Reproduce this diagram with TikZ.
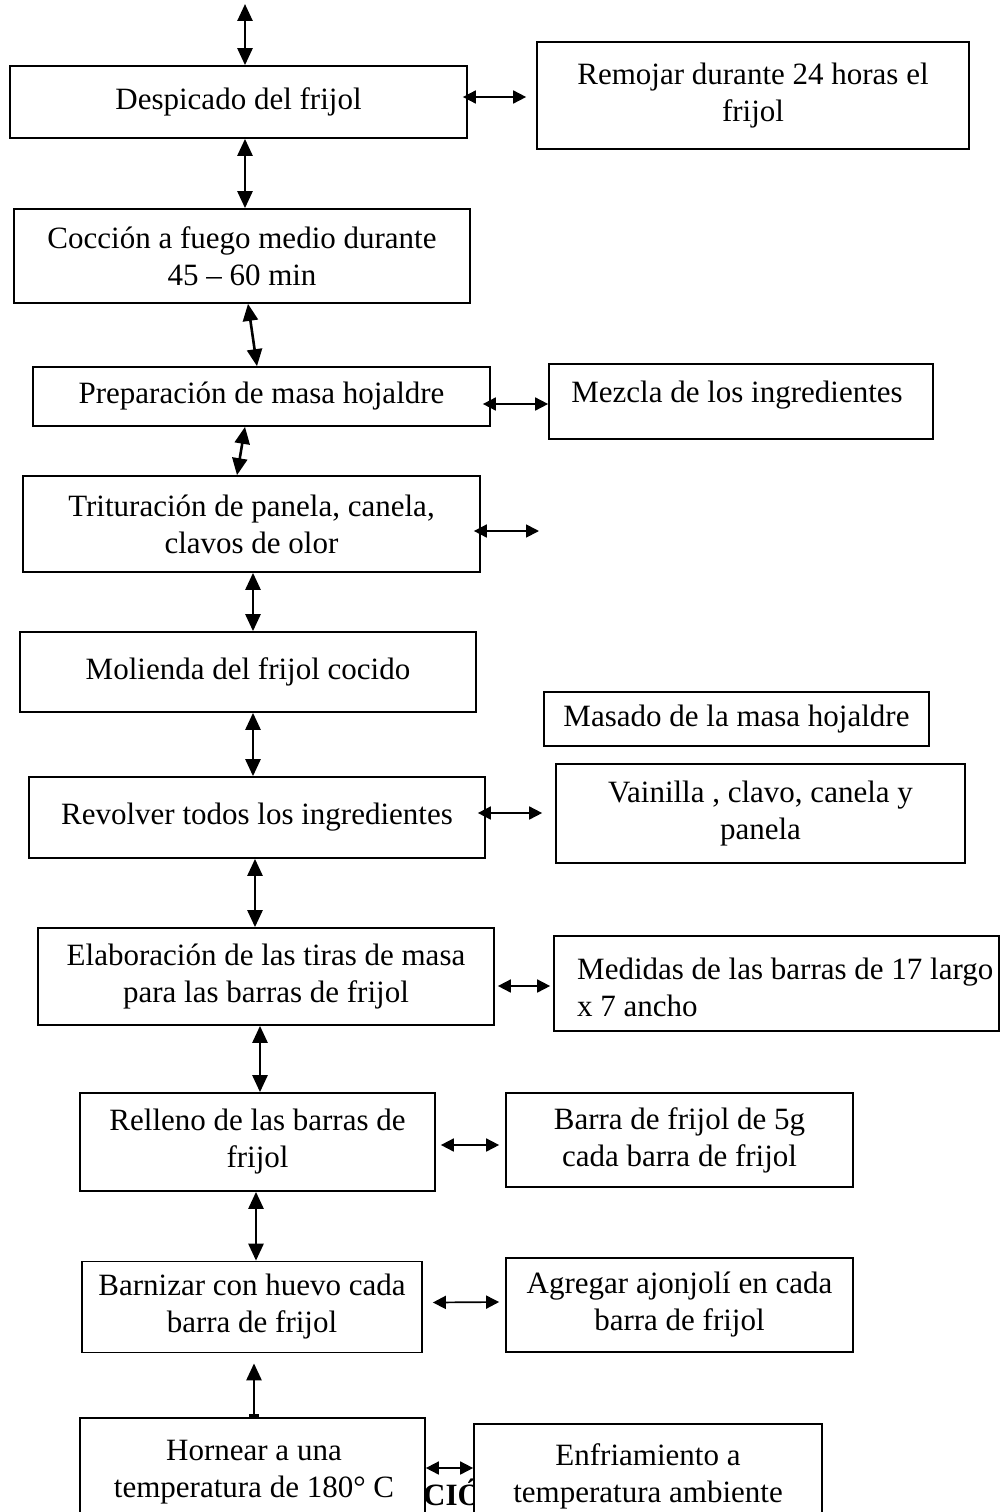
\documentclass[tikz,border=0pt]{standalone}
\usepackage{fontspec}
\setmainfont{Liberation Serif}
\usetikzlibrary{arrows.meta}
\begin{document}
\begin{tikzpicture}[x=1pt,y=-1pt,
  box/.style={draw, line width=1.7pt, fill=white, inner sep=0pt, align=center,
    font=\fontsize{31}{37}\selectfont},
  txt/.style={inner sep=0pt, align=center, font=\fontsize{31}{37}\selectfont},
  varr/.style={line width=2.6pt, {Triangle[length=17pt,width=15pt]}-{Triangle[length=17pt,width=15pt]}},
  harr/.style={line width=1.7pt, {Triangle[length=13pt,width=13pt]}-{Triangle[length=13pt,width=13pt]}}
]
\useasboundingbox (0,0) rectangle (1000,1512);
\clip (0,0) rectangle (1000,1512);
\fill[white] (0,0) rectangle (1000,1512);

% stray bold text partly hidden
\node[txt, anchor=base west, font=\bfseries\fontsize{31}{37}\selectfont] (cion) at (423,1505) {CIÓN};

% left column
\node[box, minimum width=457pt, minimum height=72pt] (d1) at (238.5,102) {Despicado del frijol};
\node[box, minimum width=456pt, minimum height=94pt] (c1) at (242,256) {Cocción a fuego medio durante\\45 -- 60 min};
\node[box, minimum width=457pt, minimum height=59pt] (p1) at (261.5,396.5) {Preparación de masa hojaldre};
\node[box, minimum width=457pt, minimum height=96pt] (t1) at (251.5,524) {Trituración de panela, canela,\\clavos de olor};
\node[box, minimum width=456pt, minimum height=80pt] (mo) at (248,672) {Molienda del frijol cocido};
\node[box, minimum width=456pt, minimum height=81pt] (rv) at (257,817.5) {Revolver todos los ingredientes};
\node[box, minimum width=456pt, minimum height=97pt] (el) at (266,976.5) {Elaboración de las tiras de masa\\para las barras de frijol};
\node[box, minimum width=355pt, minimum height=98pt] (re) at (257.5,1142) {Relleno de las barras de\\frijol};
\node[box, minimum width=340pt, minimum height=91pt] (bn) at (252,1307) {Barnizar con huevo cada\\barra de frijol};
\node[box, minimum width=345pt, minimum height=112pt] (ho) at (252.5,1474) {};
\node[txt] (hot) at (254,1472) {Hornear a una\\temperatura de 180° C};

% right column
\node[box, minimum width=432pt, minimum height=107pt] (r1) at (753,95.5) {Remojar durante 24 horas el\\frijol};
\node[box, minimum width=384pt, minimum height=75pt] (m1) at (741,401.5) {};
\node[txt] (m1t) at (737,395) {Mezcla de los ingredientes};
\node[box, minimum width=385pt, minimum height=54pt] (ma) at (736.5,719) {Masado de la masa hojaldre};
\node[box, minimum width=409pt, minimum height=99pt] (va) at (760.5,813.5) {Vainilla , clavo, canela y\\panela};
\node[box, minimum width=445pt, minimum height=95pt] (me) at (776.5,983.5) {};
\node[txt, anchor=west, align=left] (met) at (577,987) {Medidas de las barras de 17 largo\\x 7 ancho};
\node[box, minimum width=347pt, minimum height=94pt] (ba) at (679.5,1140) {Barra de frijol de 5g\\cada barra de frijol};
\node[box, minimum width=347pt, minimum height=94pt] (ag) at (679.5,1305) {Agregar ajonjolí en cada\\barra de frijol};
\node[box, minimum width=348pt, minimum height=106pt] (en) at (648,1477) {};
\node[txt] (ent) at (648,1476) {Enfriamiento a\\temperatura ambiente};

% vertical connectors
\coordinate (top) at (245,4);
\coordinate (tri) at (539,531);
\draw[varr] (top) -- ([xshift=6.5pt]d1.north);
\draw[varr] ([xshift=6.5pt]d1.south) -- ([xshift=3pt]c1.north);
\draw[varr] ([xshift=6pt]c1.south) -- ([xshift=-4.5pt]p1.north);
\draw[varr] ([xshift=-16.5pt]p1.south) -- ([xshift=-14.5pt]t1.north);
\draw[varr] ([xshift=1.5pt]t1.south) -- ([xshift=5pt]mo.north);
\draw[varr] ([xshift=5pt]mo.south) -- ([xshift=-4pt]rv.north);
\draw[varr] ([xshift=-2pt]rv.south) -- ([xshift=-11pt]el.north);
\draw[varr] ([xshift=-6pt]el.south) -- ([xshift=2.5pt]re.north);
\draw[varr] ([xshift=-1.5pt]re.south) -- ([xshift=4pt]bn.north);
\draw[line width=2.6pt, {Triangle[length=17pt,width=15pt]}-{Bar[width=10pt,line width=3pt]}]
  ([xshift=2pt,yshift=-10pt]bn.south) -- ([xshift=1.5pt]ho.north);

% horizontal connectors
\draw[harr] ([xshift=-5pt,yshift=5pt]d1.east) -- ([xshift=-10pt,yshift=-1.5pt]r1.west);
\draw[harr] ([xshift=-8pt,yshift=-7.5pt]p1.east) -- ([yshift=-2.5pt]m1.west);
\draw[harr] ([xshift=-7pt,yshift=-7pt]t1.east) -- (tri);
\draw[harr] ([xshift=-8pt,yshift=4.5pt]rv.east) -- ([xshift=-13pt,yshift=0.5pt]va.west);
\draw[harr] ([xshift=3pt,yshift=-9.5pt]el.east) -- ([xshift=-3pt,yshift=-2.5pt]me.west);
\draw[harr] ([xshift=5pt,yshift=-3pt]re.east) -- ([xshift=-6pt,yshift=-5pt]ba.west);
\draw[harr] ([xshift=10pt,yshift=4.5pt]bn.east) -- ([xshift=-6pt,yshift=3pt]ag.west);
\draw[harr] ([yshift=6pt]ho.east) -- ([yshift=9pt]en.west);
\end{tikzpicture}
\end{document}
